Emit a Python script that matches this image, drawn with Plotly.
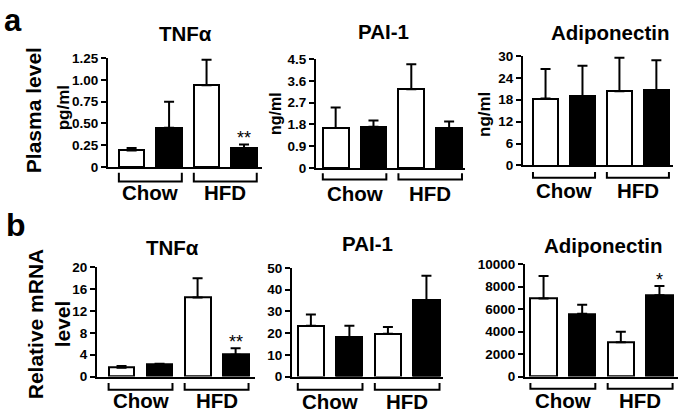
import plotly.graph_objects as go

W, H = 685, 420

# ---------------- data ----------------
groups = ["Chow", "HFD"]
bar_colors = ["white", "black", "white", "black"]
bar_pos = [1, 2, 3, 4]

a_tnf_mean = [0.19, 0.45, 0.94, 0.22]
a_tnf_err = [0.03, 0.30, 0.29, 0.04]
a_tnf_ticks = [0, 0.25, 0.5, 0.75, 1.0, 1.25]
a_tnf_ticktext = ["0", "0.25", "0.50", "0.75", "1.00", "1.25"]

a_pai_mean = [1.65, 1.71, 3.25, 1.63]
a_pai_err = [0.85, 0.25, 1.04, 0.29]
a_pai_ticks = [0, 0.9, 1.8, 2.7, 3.6, 4.5]
a_pai_ticktext = ["0", "0.9", "1.8", "2.7", "3.6", "4.5"]

a_adipo_mean = [18.3, 19.0, 20.3, 20.6]
a_adipo_err = [8.1, 8.3, 9.2, 8.2]
a_adipo_ticks = [0, 6, 12, 18, 24, 30]
a_adipo_ticktext = ["0", "6", "12", "18", "24", "30"]

b_tnf_mean = [1.64, 2.17, 14.5, 4.0]
b_tnf_err = [0.3, 0.2, 3.5, 1.2]
b_tnf_ticks = [0, 4, 8, 12, 16, 20]
b_tnf_ticktext = ["0", "4", "8", "12", "16", "20"]

b_pai_mean = [23.4, 18.0, 19.7, 35.2]
b_pai_err = [5.2, 5.4, 3.1, 11.3]
b_pai_ticks = [0, 10, 20, 30, 40, 50]
b_pai_ticktext = ["0", "10", "20", "30", "40", "50"]

b_adipo_mean = [6950, 5580, 3050, 7230]
b_adipo_err = [2000, 820, 950, 830]
b_adipo_ticks = [0, 2000, 4000, 6000, 8000, 10000]
b_adipo_ticktext = ["0", "2000", "4000", "6000", "8000", "10000"]

FONT = "Liberation Sans, Arial, sans-serif"
BIG = 20.5
TICK = 13.5

def X(px):
    return px / W

def Y(py):
    return 1 - py / H

panels = [
    dict(title="TNFα", mean=a_tnf_mean, err=a_tnf_err, ticks=a_tnf_ticks, ticktext=a_tnf_ticktext,
         x0=108, x1=262, xr=[0.37, 4.48], y0=166, y1=53, title_xy=(185, 27),
         unit="pg/ml", unit_xy=(63, 104), unit_size=17,
         br_y=181, br_top=172, lab_y=192, sig="**"),
    dict(title="PAI-1", mean=a_pai_mean, err=a_pai_err, ticks=a_pai_ticks, ticktext=a_pai_ticktext,
         x0=316, x1=465, xr=[0.48, 4.42], y0=167, y1=54, title_xy=(383, 25),
         unit="ng/ml", unit_xy=(275, 111), unit_size=16,
         br_y=179, br_top=172.5, lab_y=193, sig=None),
    dict(title="Adiponectin", mean=a_adipo_mean, err=a_adipo_err, ticks=a_adipo_ticks, ticktext=a_adipo_ticktext,
         x0=523, x1=673, xr=[0.39, 4.45], y0=164.3, y1=50.7, title_xy=(610, 26),
         unit="ng/ml", unit_xy=(485, 112), unit_size=17,
         br_y=177, br_top=171, lab_y=190, sig=None),
    dict(title="TNFα", mean=b_tnf_mean, err=b_tnf_err, ticks=b_tnf_ticks, ticktext=b_tnf_ticktext,
         x0=97, x1=255, xr=[0.355, 4.51], y0=383.3, y1=270, title_xy=(172, 249),
         unit=None, br_y=397, br_top=390, lab_y=408, sig="**"),
    dict(title="PAI-1", mean=b_pai_mean, err=b_pai_err, ticks=b_pai_ticks, ticktext=b_pai_ticktext,
         x0=292, x1=443, xr=[0.51, 4.43], y0=383.3, y1=270.7, title_xy=(367, 245),
         unit=None, br_y=397, br_top=390, lab_y=409, sig=None),
    dict(title="Adiponectin", mean=b_adipo_mean, err=b_adipo_err, ticks=b_adipo_ticks, ticktext=b_adipo_ticktext,
         x0=525, x1=678, xr=[0.52, 4.48], y0=383.3, y1=266.7, title_xy=(603, 247),
         unit=None, br_y=396, br_top=390, lab_y=408, sig="*"),
]

fig = go.Figure()
BW = 0.68
annotations = []
shapes = []

for i, p in enumerate(panels):
    n = i + 1
    xa = "x" if n == 1 else f"x{n}"
    ya = "y" if n == 1 else f"y{n}"
    fig.add_trace(go.Bar(
        x=bar_pos, y=p["mean"], width=BW,
        marker=dict(color=bar_colors, line=dict(color="black", width=2)),
        error_y=dict(type="data", array=p["err"], arrayminus=[0] * 4, symmetric=False,
                     color="black", thickness=2, width=5),
        xaxis=xa, yaxis=ya, showlegend=False, hoverinfo="skip",
    ))
    xkey = "xaxis" if n == 1 else f"xaxis{n}"
    ykey = "yaxis" if n == 1 else f"yaxis{n}"
    fig.update_layout(**{
        xkey: dict(domain=[X(p["x0"]), X(p["x1"])], range=p["xr"], anchor=ya,
                   showline=True, linecolor="black", linewidth=2, showticklabels=False,
                   ticks="", showgrid=False, zeroline=False),
        ykey: dict(domain=[Y(p["y0"]), Y(p["y1"])], range=[p["ticks"][0], p["ticks"][-1]], anchor=xa,
                   showline=True, linecolor="black", linewidth=2, ticks="outside",
                   ticklen=5, tickwidth=2, tickcolor="black",
                   tickvals=p["ticks"], ticktext=p["ticktext"],
                   tickfont=dict(family=FONT, size=TICK, color="black", weight=700),
                   showgrid=False, zeroline=False),
    })
    annotations.append(dict(text=p["title"], x=X(p["title_xy"][0]), y=Y(p["title_xy"][1]),
                            xref="paper", yref="paper", showarrow=False, xanchor="center", yanchor="middle",
                            font=dict(family=FONT, size=BIG, color="black", weight=700)))
    if p.get("unit"):
        annotations.append(dict(text=p["unit"], x=X(p["unit_xy"][0]), y=Y(p["unit_xy"][1]),
                                xref="paper", yref="paper", showarrow=False, textangle=-90,
                                xanchor="center", yanchor="middle",
                                font=dict(family=FONT, size=p["unit_size"], color="black", weight=700)))
    for g, (l, r) in enumerate([(1, 2), (3, 4)]):
        xl = l - BW / 2
        xr_ = r + BW / 2
        shapes.append(dict(type="path", xref=xa, yref="paper",
                           path=f"M {xl},{Y(p['br_top'])} L {xl},{Y(p['br_y'])} L {xr_},{Y(p['br_y'])} L {xr_},{Y(p['br_top'])}",
                           line=dict(color="black", width=2)))
        annotations.append(dict(text=groups[g], x=(l + r) / 2, y=Y(p["lab_y"]), xref=xa, yref="paper",
                                showarrow=False, xanchor="center", yanchor="middle",
                                font=dict(family=FONT, size=BIG, color="black", weight=700)))
    if p.get("sig"):
        annotations.append(dict(text=p["sig"], x=4, y=p["mean"][3] + p["err"][3], xref=xa, yref=ya,
                                showarrow=False, xanchor="center", yanchor="bottom", yshift=-6,
                                font=dict(family=FONT, size=18, color="black")))

annotations.append(dict(text="a", x=X(13), y=1, xref="paper", yref="paper", showarrow=False,
                        xanchor="center", yanchor="top", yshift=6,
                        font=dict(family=FONT, size=31, color="black", weight=700)))
annotations.append(dict(text="b", x=X(16), y=Y(226), xref="paper", yref="paper", showarrow=False,
                        xanchor="center", yanchor="middle", font=dict(family=FONT, size=32, color="black", weight=700)))
annotations.append(dict(text="Plasma level", x=X(33), y=Y(107), xref="paper", yref="paper", showarrow=False,
                        textangle=-90, xanchor="center", yanchor="middle",
                        font=dict(family=FONT, size=21, color="black", weight=700)))
annotations.append(dict(text="Relative mRNA<br>level", x=X(49), y=Y(328), xref="paper", yref="paper",
                        showarrow=False, textangle=-90, xanchor="center", yanchor="middle",
                        font=dict(family=FONT, size=21, color="black", weight=700)))

fig.update_layout(width=W, height=H, margin=dict(l=0, r=0, t=0, b=0),
                  paper_bgcolor="white", plot_bgcolor="white",
                  annotations=annotations, shapes=shapes, bargap=0)

fig.write_html("out.html", config={"displayModeBar": False},
               post_script="document.body.style.margin='0px';")
